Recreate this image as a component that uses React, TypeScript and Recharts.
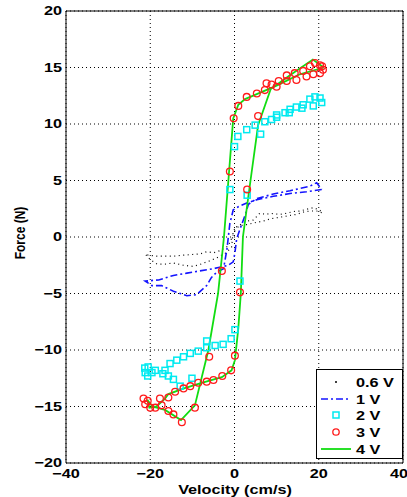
import React from 'react';
import { ComposedChart, Scatter, Line, XAxis, YAxis, CartesianGrid, ReferenceLine } from 'recharts';

// data, [velocity cm/s, force N]
const v06: number[][] = [
  [20.7, 2.15], [19.5, 2.3], [17.9, 2.3], [16.3, 2.2], [14.7, 2.0], [13.0, 1.9], [11.6, 1.8],
  [10.0, 1.7], [8.4, 1.6], [6.8, 1.4], [5.3, 1.3], [2.9, 1.1], [1.3, 1.0], [-0.3, 0.6],
  [-0.5, -0.2], [-0.7, -0.9], [-2.0, -1.4], [-4.0, -1.8], [-5.8, -2.1], [-8.0, -2.4],
  [-9.8, -2.6], [-12.1, -2.5], [-14.5, -2.3], [-16.5, -2.4], [-18.4, -2.4], [-20.0, -2.0],
  [-21.2, -1.5], [-20.5, -1.6], [-18.5, -1.7], [-16.9, -1.7], [-14.5, -1.7], [-12.1, -1.6],
  [-10.0, -1.55], [-8.2, -1.5], [-6.6, -1.3], [-5.0, -1.4], [-3.4, -1.2], [-1.5, -0.8],
  [-0.3, 0.2], [0.5, 0.9], [2.9, 1.4], [4.5, 1.5], [6.0, 2.1], [7.6, 2.0], [8.4, 2.1],
  [10.8, 2.0], [12.4, 2.1], [13.9, 2.25], [15.5, 2.3], [17.1, 2.45], [18.7, 2.6], [20.3, 2.35],
  [20.7, 2.15],
];

const v1: number[][] = [
  [20.7, 4.2], [17.1, 4.0], [13.2, 3.85], [9.2, 3.6], [5.3, 3.3], [2.9, 3.0], [1.0, 2.7],
  [-0.3, 2.4], [-1.1, 1.2], [-1.8, -1.1], [-2.6, -2.8], [-4.2, -3.1], [-5.5, -3.6],
  [-6.6, -4.3], [-9.0, -5.1], [-11.3, -5.2], [-14.5, -4.8], [-17.3, -4.3], [-19.6, -4.3],
  [-21.2, -3.9], [-18.0, -3.8], [-14.5, -3.4], [-11.3, -3.2], [-8.2, -3.0], [-5.0, -2.8],
  [-3.8, -2.7], [-1.5, -2.5], [-0.3, -2.2], [0.1, -1.4], [0.5, -0.2], [1.3, 0.7], [2.5, 1.9],
  [3.3, 2.9], [5.3, 3.4], [9.2, 3.8], [13.2, 4.1], [17.9, 4.5], [19.5, 4.8], [20.7, 4.2],
];

const v2: number[][] = [
  [20.7, 11.9], [20.3, 12.3], [19.1, 12.4], [18.7, 11.6], [17.9, 12.2], [16.3, 11.7], [16.0, 11.4],
  [14.7, 11.5], [13.2, 11.3], [13.0, 11.0], [12.0, 11.0], [10.0, 10.8], [10.0, 10.6], [8.8, 10.4],
  [7.2, 10.2], [6.2, 9.1], [4.9, 9.9], [2.9, 9.5], [0.8, 8.9], [0.0, 8.0], [-1.1, 4.2],
  [3.0, 3.7], [1.3, -3.9], [0.1, -8.2], [-0.8, -9.0], [-2.7, -9.5], [-4.6, -9.6], [-6.6, -9.2],
  [-6.6, -9.8], [-8.6, -10.1], [-10.5, -10.3], [-12.1, -10.6], [-13.7, -10.9], [-15.3, -11.2],
  [-16.5, -11.8], [-18.8, -11.8], [-19.6, -12.0], [-20.5, -11.5], [-21.3, -11.6], [-21.2, -12.0],
  [-20.6, -12.3], [-17.0, -12.1], [-15.7, -12.3], [-14.5, -12.6], [-12.9, -13.2], [-10.1, -12.5],
];

const v3: number[][] = [
  [21.0, 14.8], [20.8, 15.1], [20.3, 15.2], [19.1, 15.4], [17.9, 15.1], [16.3, 14.7], [14.3, 14.5],
  [12.4, 14.3], [10.5, 13.8], [8.8, 13.5], [7.2, 13.0], [5.3, 12.7], [2.9, 12.4], [0.9, 11.6],
  [-0.2, 10.5], [-1.1, 5.8], [-3.0, -3.0], [-6.0, -10.6], [-9.4, -15.1], [-12.5, -16.4],
  [-14.5, -15.7], [-15.7, -15.4], [-17.3, -14.9], [-18.8, -15.1], [-20.0, -15.1], [-21.2, -14.8],
  [-21.6, -14.3], [-20.6, -14.5], [-17.7, -14.3], [-15.7, -14.2], [-14.1, -13.7], [-12.1, -13.4],
  [-10.5, -13.2], [-8.6, -12.9], [-6.6, -12.8], [-5.0, -12.65], [-2.9, -12.3], [-0.8, -11.8],
  [0.1, -10.5], [1.3, -4.9], [3.0, 4.2], [5.6, 10.7], [20.3, 14.5], [18.7, 14.4], [17.1, 14.2],
  [14.7, 13.9], [12.4, 13.8], [10.0, 13.3], [7.6, 13.6],
];

const v4: number[][] = [
  [21.2, 15.0], [15.5, 14.4], [10.0, 13.4], [5.0, 12.6], [2.5, 12.2], [0.9, 11.7], [-0.3, 10.5],
  [-2.5, 0.0], [-3.9, -5.0], [-6.2, -10.0], [-9.4, -14.9], [-12.7, -16.2], [-16.5, -15.3],
  [-19.5, -15.0], [-20.7, -14.4], [-20.2, -15.1], [-18.5, -15.0], [-16.5, -14.3], [-15.7, -13.9],
  [-12.0, -13.4], [-7.8, -12.9], [-3.0, -12.4], [-0.7, -11.8], [0.1, -10.9], [0.9, -8.1],
  [1.5, -5.0], [2.0, 0.0], [3.8, 5.0], [5.6, 9.9], [8.6, 13.1], [13.5, 14.4], [18.6, 15.7],
  [21.2, 15.0],
];

const xTicks = [-40, -20, 0, 20, 40];
const yTicks = [-20, -15, -10, -5, 0, 5, 10, 15, 20];
const seriesNames = ['0.6 V', '1 V', '2 V', '3 V', '4 V'];

const toPts = (arr: number[][]) => arr.map(([x, y]) => ({ x, y }));

const BLUE = '#1414ff';
const CYAN = '#00eaf0';
const RED = '#ff1a1a';
const GREEN = '#11dd11';
const SX = 1.25; // the figure text is stretched sideways

const fmt = (v: number) => String(v).replace('-', '\u2212');

const Square = (p: any) => (
  <rect x={p.cx - 3} y={p.cy - 3} width={6} height={6} fill="none" stroke={CYAN} strokeWidth={1.5} />
);
const Circ = (p: any) => <circle cx={p.cx} cy={p.cy} r={3.4} fill="none" stroke={RED} strokeWidth={1.3} />;

const XTick = (p: any) => (
  <text transform={`translate(${p.x},${p.y}) scale(${SX},1)`} textAnchor="middle" dy="0.71em" fontSize={13} fontWeight="bold" fill="#000">
    {fmt(p.payload.value)}
  </text>
);
const YTick = (p: any) => (
  <text transform={`translate(${p.x},${p.y}) scale(${SX},1)`} textAnchor="end" dy="0.33em" fontSize={13} fontWeight="bold" fill="#000">
    {fmt(p.payload.value)}
  </text>
);

const LegendBox = () => {
  const rows = [12, 29, 45, 62, 79];
  return (
    <div style={{ position: 'absolute', left: 316, top: 369, width: 85, height: 88, border: '1px solid #000', background: '#fff' }}>
      <svg width={85} height={88} style={{ display: 'block' }}>
        {seriesNames.map((n, i) => {
          const y = rows[i];
          let sample: React.ReactNode = null;
          if (i === 0) sample = <circle cx={19} cy={y} r={1} fill="#000" />;
          if (i === 1) sample = <line x1={4} x2={34} y1={y} y2={y} stroke={BLUE} strokeWidth={1.6} strokeDasharray="7 3 2 3" />;
          if (i === 2) sample = <rect x={16} y={y - 3} width={6} height={6} fill="none" stroke={CYAN} strokeWidth={1.5} />;
          if (i === 3) sample = <circle cx={19} cy={y} r={3.2} fill="none" stroke={RED} strokeWidth={1.3} />;
          if (i === 4) sample = <line x1={4} x2={34} y1={y} y2={y} stroke={GREEN} strokeWidth={1.8} />;
          return (
            <g key={n}>
              {sample}
              <text transform={`translate(39,${y}) scale(${SX},1)`} dy="0.36em" fontSize={13} fontWeight="bold" fill="#000">{n}</text>
            </g>
          );
        })}
      </svg>
    </div>
  );
};

export default function App() {
  return (
    <div style={{ position: 'absolute', left: 0, top: 0, width: 407, height: 497, background: '#fff', fontFamily: '"Liberation Sans", Arial, sans-serif' }}>
      <ComposedChart width={407} height={497} margin={{ top: 11, right: 4, left: 0, bottom: 0 }}>
        <CartesianGrid stroke="#000" strokeDasharray="1 3" strokeWidth={1} />
        <XAxis
          type="number"
          dataKey="x"
          domain={[-40, 40]}
          ticks={xTicks}
          height={34}
          tickLine={false}
          tickSize={3}
          tickMargin={3}
          tick={<XTick />}
          axisLine={{ stroke: '#000' }}
          allowDataOverflow
          label={{
            content: () => (
              <text transform={`translate(235,494) scale(${SX},1)`} textAnchor="middle" fontSize={13} fontWeight="bold" fill="#000">
                Velocity (cm/s)
              </text>
            ),
          }}
        />
        <YAxis
          type="number"
          dataKey="y"
          domain={[-20, 20]}
          ticks={yTicks}
          width={66}
          tickLine={false}
          tickSize={2}
          tickMargin={2}
          tick={<YTick />}
          axisLine={{ stroke: '#000' }}
          allowDataOverflow
          label={{
            content: () => (
              <text transform={`translate(20,233) scale(${SX},1) rotate(-90)`} textAnchor="middle" dominantBaseline="central" fontSize={12} fontWeight="bold" fill="#000">
                Force (N)
              </text>
            ),
          }}
        />
        <ReferenceLine y={20} stroke="#000" />
        <ReferenceLine x={40} stroke="#000" />
        <Line data={toPts(v06)} dataKey="y" stroke="#000" strokeWidth={1.2} strokeDasharray="1 3.5" dot={false} isAnimationActive={false} type="linear" />
        <Line data={toPts(v1)} dataKey="y" stroke={BLUE} strokeWidth={1.6} strokeDasharray="7 3 2 3" dot={false} isAnimationActive={false} type="linear" />
        <Scatter data={toPts(v2)} shape={Square} isAnimationActive={false} />
        <Scatter data={toPts(v3)} shape={Circ} isAnimationActive={false} />
        <Line data={toPts(v4)} dataKey="y" stroke={GREEN} strokeWidth={1.8} dot={false} isAnimationActive={false} type="linear" />
      </ComposedChart>
      <LegendBox />
    </div>
  );
}
